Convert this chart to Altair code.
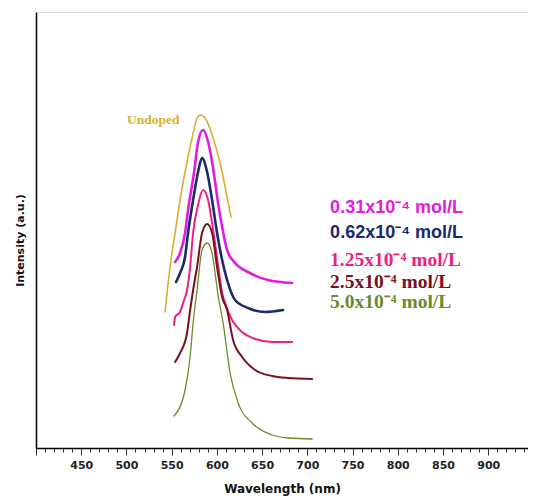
import altair as alt
import pandas as pd

# ---- data (wavelength nm, intensity a.u.) ----
undoped_wl = [542.7, 548.2, 553.8, 559.3, 564.8, 572.6, 578.1, 581.4, 586.9, 595.8, 605.8, 611.3, 615.7]
undoped_i = [136, 181, 215, 248, 276, 310, 330, 333, 330, 310, 276, 251, 231]

c031_wl = [553.8, 559.3, 564.8, 568.1, 574.8, 579.2, 584.7, 590.3, 594.7, 598.0, 601.3, 605.8, 611.3, 620.1, 634.5, 656.6, 683.2]
c031_i = [186, 195, 215, 238, 276, 306, 318, 306, 286, 266, 245, 221, 198, 185, 176, 168, 165]

c062_wl = [554.9, 559.3, 564.8, 568.1, 573.7, 579.2, 583.6, 589.2, 594.7, 600.2, 605.8, 611.3, 620.1, 634.5, 653.3, 673.2]
c062_i = [166, 175, 191, 215, 248, 276, 290, 276, 248, 215, 188, 168, 148, 140, 136, 138]

c125_wl = [552.7, 553.8, 559.3, 562.6, 567.0, 570.4, 573.7, 579.2, 584.7, 590.3, 595.8, 601.3, 605.8, 609.1, 616.8, 627.9, 642.3, 661.1, 683.2]
c125_i = [123, 131, 136, 145, 158, 181, 215, 243, 258, 248, 218, 183, 155, 145, 128, 116, 109, 106, 106]

c25_wl = [553.8, 559.3, 567.0, 570.4, 573.7, 578.1, 583.6, 589.2, 594.7, 600.2, 605.8, 611.3, 617.9, 627.9, 642.3, 661.1, 678.8, 705.3]
c25_i = [86, 95, 115, 138, 158, 181, 215, 224, 215, 181, 151, 138, 108, 91, 78, 72, 70, 69]

c50_wl = [552.7, 564.8, 570.4, 573.7, 578.1, 583.6, 589.2, 594.7, 598.0, 601.3, 606.9, 614.6, 623.5, 638.9, 661.1, 678.8, 705.3]
c50_i = [32, 58, 91, 125, 158, 198, 205, 195, 175, 153, 125, 75, 45, 25, 13, 10, 9]

series_names = ["Undoped", "0.31x10⁻⁴ mol/L", "0.62x10⁻⁴ mol/L", "1.25x10⁻⁴ mol/L", "2.5x10⁻⁴ mol/L", "5.0x10⁻⁴ mol/L"]
series_colors = ["#D6B02E", "#E21BE0", "#1B2A6B", "#EE1E82", "#7B0F1E", "#6B8A2A"]
series_widths = [1.6, 2.6, 2.6, 2.0, 2.0, 1.3]
series_data = [(undoped_wl, undoped_i), (c031_wl, c031_i), (c062_wl, c062_i),
               (c125_wl, c125_i), (c25_wl, c25_i), (c50_wl, c50_i)]

# label anchors (wavelength, intensity)
label_x = [500.7, 725.2, 725.2, 725.2, 725.2, 725.2]
label_y = [328, 240, 215, 188, 166, 146]
label_fonts = ["Liberation Serif", "Liberation Sans", "Liberation Sans", "Liberation Serif", "Liberation Serif", "Liberation Serif"]
label_sizes = [13.5, 18, 18, 19.5, 19.5, 19.5]

x_scale = alt.Scale(domain=[400, 944], nice=False, zero=False)
y_scale = alt.Scale(domain=[0, 436], nice=False, zero=True)

x_axis = alt.Axis(
    title="Wavelength (nm)",
    values=list(range(400, 941, 10)),
    labelExpr="(datum.value % 50 === 0 && datum.value >= 450) ? datum.label : ''",
    tickSize={"condition": {"test": "datum.value % 50 === 0", "value": 7}, "value": 4},
    tickColor="#333333",
    tickWidth=1,
    labelFont="DejaVu Sans", labelFontWeight="bold", labelFontSize=11, labelColor="#222222",
    labelPadding=4, labelFlush=False,
    titleFont="DejaVu Sans", titleFontWeight="bold", titleFontSize=12, titleColor="#111111",
    titlePadding=13,
    domainColor="#000000", domainWidth=1.5, grid=False,
)
y_axis = alt.Axis(
    title="Intensity (a.u.)",
    ticks=False, labels=False, grid=False,
    titleFont="DejaVu Sans", titleFontWeight="bold", titleFontSize=11, titleColor="#111111",
    titlePadding=11, titleY=228,
    domainColor="#000000", domainWidth=1.5,
)

X = alt.X("wavelength:Q", scale=x_scale, axis=x_axis)
Y = alt.Y("intensity:Q", scale=y_scale, axis=y_axis)

layers = []
for i, (name, (wl, inten)) in enumerate(zip(series_names, series_data)):
    df = pd.DataFrame({"wavelength": wl, "intensity": inten, "series": name})
    layers.append(alt.Chart(df).mark_line(
        color=series_colors[i], strokeWidth=series_widths[i], interpolate="monotone",
        strokeJoin="round", strokeCap="round"
    ).encode(x=X, y=Y, order="wavelength:Q"))

for i, name in enumerate(series_names):
    tdf = pd.DataFrame({"wavelength": [label_x[i]], "intensity": [label_y[i]], "label": [name]})
    layers.append(alt.Chart(tdf).mark_text(
        align="left", baseline="middle", font=label_fonts[i], fontWeight="bold",
        fontSize=label_sizes[i], color=series_colors[i]
    ).encode(x=X, y=Y, text="label:N"))

chart = alt.layer(*layers).properties(
    width=492, height=436,
    autosize=alt.AutoSizeParams(type="none"),
    padding={"left": 28, "top": 4, "right": 0, "bottom": 50},
).configure_view(strokeWidth=0).configure(background="white")

chart.save("out.html", embed_options={"renderer": "svg", "actions": False})
